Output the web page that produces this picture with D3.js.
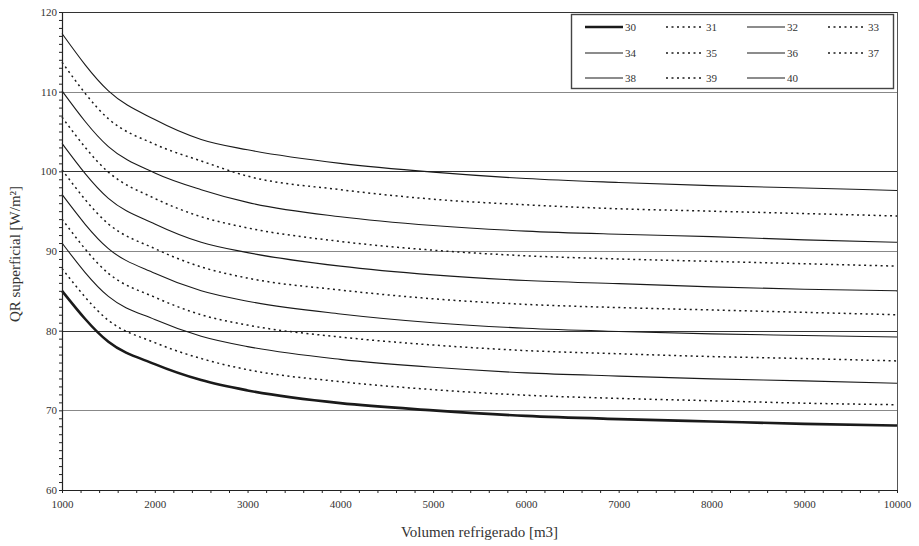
<!DOCTYPE html>
<html>
<head>
<meta charset="utf-8">
<script src="https://cdn.jsdelivr.net/npm/d3@7"></script>
<style>
  html, body { margin: 0; padding: 0; background: #fff; }
  svg { display: block; }
  svg text { font-family: "Liberation Serif", "Times New Roman", serif !important; }
</style>
</head>
<body>
<svg id="chart" width="919" height="546"></svg>
<script>
// ---- data ----
const volumes = [1000, 1500, 2000, 2500, 3000, 4000, 5000, 6000, 7000, 8000, 9000, 10000];
const seriesNames = ["30", "31", "32", "33", "34", "35", "36", "37", "38", "39", "40"];
const q30 = [85.0, 78.6, 75.8, 73.8, 72.5, 70.9, 70.0, 69.3, 68.9, 68.6, 68.3, 68.1];
const q31 = [87.8, 81.3, 78.5, 76.5, 75.1, 73.6, 72.6, 71.9, 71.5, 71.2, 70.9, 70.7];
const q32 = [91.0, 84.3, 81.4, 79.3, 78.0, 76.4, 75.4, 74.7, 74.3, 73.95, 73.7, 73.4];
const q33 = [94.0, 87.2, 84.2, 82.0, 80.7, 79.2, 78.2, 77.5, 77.1, 76.75, 76.5, 76.2];
const q34 = [97.1, 90.3, 87.2, 85.0, 83.7, 82.1, 81.0, 80.3, 79.9, 79.6, 79.4, 79.2];
const q35 = [100.2, 93.4, 90.3, 88.0, 86.6, 85.1, 84.0, 83.3, 82.9, 82.6, 82.3, 82.0];
const q36 = [103.5, 96.6, 93.4, 91.1, 89.8, 88.1, 87.0, 86.3, 85.9, 85.5, 85.2, 85.0];
const q37 = [106.8, 99.9, 96.6, 94.3, 92.9, 91.2, 90.1, 89.4, 89.0, 88.7, 88.4, 88.1];
const q38 = [110.1, 103.1, 99.8, 97.7, 96.1, 94.3, 93.2, 92.5, 92.1, 91.8, 91.4, 91.1];
const q39 = [113.7, 106.6, 103.4, 101.3, 99.4, 97.7, 96.5, 95.8, 95.3, 95.0, 94.7, 94.4];
const q40 = [117.3, 110.1, 106.5, 104.0, 102.7, 101.0, 99.9, 99.1, 98.6, 98.2, 97.9, 97.6];
const seriesValues = [q30, q31, q32, q33, q34, q35, q36, q37, q38, q39, q40];
const xTicks = [1000, 2000, 3000, 4000, 5000, 6000, 7000, 8000, 9000, 10000];
const yTicks = [60, 70, 80, 90, 100, 110, 120];
const gridValues = [70, 80, 90, 100, 110];

// ---- layout ----
const svg = d3.select("#chart");
const mLeft = 62, mRight = 897, mTop = 12, mBottom = 490;
const x = d3.scaleLinear().domain([1000, 10000]).range([mLeft, mRight]);
const y = d3.scaleLinear().domain([60, 120]).range([mBottom, mTop]);

// gridlines
svg.append("g").selectAll("line").data(gridValues).join("line")
  .attr("x1", mLeft).attr("x2", mRight)
  .attr("y1", d => Math.round(y(d)) + 0.5).attr("y2", d => Math.round(y(d)) + 0.5)
  .attr("stroke", d => (d === 80 || d === 100) ? "#333" : "#888")
  .attr("stroke-width", 1);

// top and right border
svg.append("line").attr("x1", mLeft).attr("x2", mRight).attr("y1", mTop + 0.5).attr("y2", mTop + 0.5)
  .attr("stroke", "#333").attr("stroke-width", 1);
svg.append("line").attr("x1", mRight + 0.5).attr("x2", mRight + 0.5).attr("y1", mTop).attr("y2", mBottom)
  .attr("stroke", "#555").attr("stroke-width", 1);

// curves
const line = d3.line()
  .x((d, i) => x(volumes[i]))
  .y(d => y(d))
  .curve(d3.curveMonotoneX);

svg.append("g").selectAll("path").data(seriesValues).join("path")
  .attr("d", d => line(d))
  .attr("fill", "none")
  .attr("stroke", "#1a1a1a")
  .attr("stroke-width", (d, i) => i === 0 ? 2.6 : (i % 2 === 1 ? 1.5 : 1.1))
  .attr("stroke-dasharray", (d, i) => i % 2 === 1 ? "2,3.5" : null);

// axes
const xAxis = d3.axisBottom(x).tickValues(d3.range(1000, 10001, 200)).tickSize(3).tickSizeOuter(0)
  .tickFormat(d => xTicks.includes(d) ? d3.format("d")(d) : "");
const gx = svg.append("g").attr("transform", `translate(0,${mBottom})`).call(xAxis)
  .attr("font-family", "Liberation Serif").attr("font-size", 11);
gx.select(".domain").attr("stroke", "#222").attr("stroke-width", 1.2);
gx.selectAll(".tick line").attr("stroke", "#222");
gx.selectAll("text").attr("fill", "#333").attr("dy", "1.05em");

const yAxis = d3.axisLeft(y).tickValues(d3.range(60, 121, 1)).tickSize(3).tickSizeOuter(0)
  .tickFormat(d => yTicks.includes(d) ? d3.format("d")(d) : "");
const gy = svg.append("g").attr("transform", `translate(${mLeft},0)`).call(yAxis)
  .attr("font-family", "Liberation Serif").attr("font-size", 11);
gy.select(".domain").attr("stroke", "#222").attr("stroke-width", 1.2);
gy.selectAll(".tick line").attr("stroke", "#222");
gy.selectAll("text").attr("fill", "#333").attr("x", -5);

// axis titles
svg.append("text").attr("x", (mLeft + mRight) / 2).attr("y", 537)
  .attr("text-anchor", "middle").attr("font-size", 15).attr("fill", "#333")
  .text("Volumen refrigerado [m3]");
svg.append("text").attr("transform", "translate(20,254) rotate(-90)")
  .attr("text-anchor", "middle").attr("font-size", 15).attr("fill", "#333")
  .text("QR superficial [W/m²]");

// legend
const lg = svg.append("g");
lg.append("rect").attr("x", 571.5).attr("y", 14.5).attr("width", 322).attr("height", 74)
  .attr("fill", "#fff").attr("stroke", "#444").attr("stroke-width", 1.4);
const colX = [585, 666, 747, 828];
const rowY = [27, 53, 78];
seriesNames.forEach((name, i) => {
  const cx = colX[i % 4], cy = rowY[Math.floor(i / 4)];
  lg.append("line").attr("x1", cx).attr("x2", cx + 38).attr("y1", cy).attr("y2", cy)
    .attr("stroke", "#1a1a1a")
    .attr("stroke-width", i === 0 ? 2.6 : (i % 2 === 1 ? 1.5 : 1.1))
    .attr("stroke-dasharray", i % 2 === 1 ? "2,3.5" : null);
  lg.append("text").attr("x", cx + 40).attr("y", cy + 4)
    .attr("font-size", 11).attr("fill", "#333").text(name);
});
</script>
</body>
</html>
